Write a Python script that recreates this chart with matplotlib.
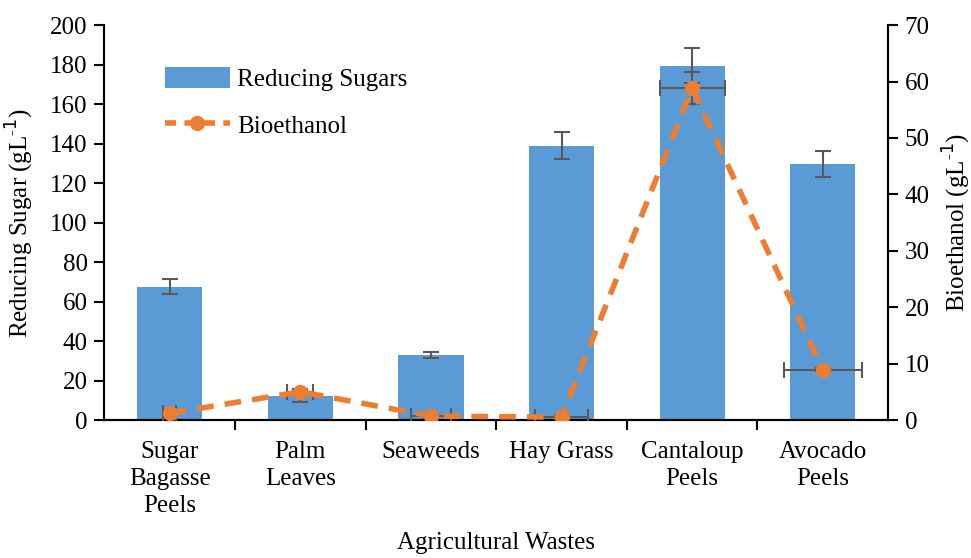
import numpy as np
import matplotlib
matplotlib.use("Agg")
import matplotlib.pyplot as plt
from matplotlib.lines import Line2D
from matplotlib.patches import Patch

plt.rcParams['font.family'] = ['Liberation Serif', 'DejaVu Serif']
plt.rcParams['font.size'] = 18

wastes = ["Sugar\nBagasse\nPeels", "Palm\nLeaves", "Seaweeds", "Hay Grass",
          "Cantaloup\nPeels", "Avocado\nPeels"]
sugars = [67.5, 12.2, 33.0, 139.0, 179.5, 129.5]
sugars_err = [3.8, 3.0, 1.5, 7.0, 9.0, 6.5]
ethanol = [1.2, 5.0, 0.7, 0.5, 58.8, 8.9]
ethanol_err = [0.3, 0.5, 0.3, 0.3, 2.8, 0.3]
ethanol_xerr = [0.05, 0.1, 0.15, 0.2, 0.25, 0.3]

blue = "#5B9BD5"
orange = "#ED7D31"
grey = "#595959"

fig = plt.figure(figsize=(9.71, 5.58), dpi=100)
ax = fig.add_axes([0.1076, 0.2473, 0.807, 0.7077])
ax2 = ax.twinx()

x = np.arange(len(wastes))
ax.bar(x, sugars, width=0.5, color=blue, zorder=2)
ax.errorbar(x, sugars, yerr=sugars_err, fmt="none", ecolor=grey,
            elinewidth=1.5, capsize=6, capthick=1.5, zorder=3)

ax2.errorbar(x, ethanol, yerr=ethanol_err, xerr=ethanol_xerr, fmt="none",
             ecolor=grey, elinewidth=1.5, capsize=6, capthick=1.5, zorder=3)
ax2.plot(x, ethanol, color=orange, lw=4, ls=(0, (3, 2)), marker="o",
         markersize=10, zorder=4)

ax.set_xlim(-0.5, len(wastes) - 0.5)
ax.set_ylim(0, 200)
ax.set_yticks(np.arange(0, 201, 20))
ax2.set_ylim(0, 70)
ax2.set_yticks(np.arange(0, 71, 10))

ax.set_xticks(x)
ax.set_xticklabels(wastes, linespacing=1.3)
ax.set_xticks(np.arange(0.5, len(wastes) - 1, 1), minor=True)
ax.tick_params(axis="x", which="major", length=0, pad=15)
ax.tick_params(axis="x", which="minor", length=7, width=1.5, direction="out")
ax.tick_params(axis="y", length=7, width=1.5, direction="out", pad=5)
ax2.tick_params(axis="y", length=7, width=1.5, direction="out", pad=5)

for a in (ax, ax2):
    a.spines["top"].set_visible(False)
    for s in ("left", "right", "bottom"):
        a.spines[s].set_linewidth(1.5)

ax.set_ylabel("Reducing Sugar (gL$^{\\mathregular{\u2010}1}$)", labelpad=10)
ax2.set_ylabel("Bioethanol (gL$^{\\mathregular{\u2010}1}$)", labelpad=8)
ax.set_xlabel("Agricultural Wastes", labelpad=11)

handles = [Patch(facecolor=blue),
           Line2D([], [], color=orange, lw=4, ls=(0, (2, 1.5)), marker="o",
                  markersize=10)]
ax.legend(handles, ["Reducing Sugars", "Bioethanol"], loc="upper left",
          bbox_to_anchor=(0.048, 0.95), frameon=False, handlelength=2.6,
          handleheight=0.9, labelspacing=0.9, handletextpad=0.3)

fig.savefig("out.png", dpi=100)
